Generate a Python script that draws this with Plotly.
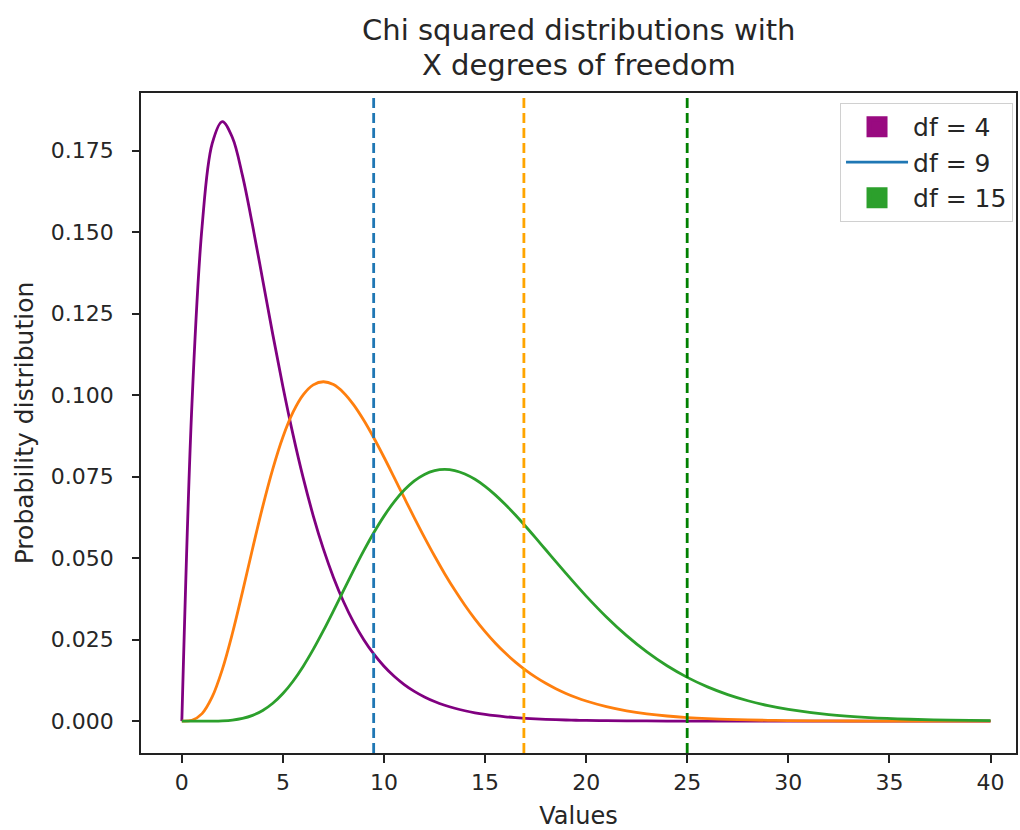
import plotly.graph_objects as go

# Values (x grid and densities for each df)
x_values = [0, 0.5, 1, 1.5, 2, 2.5, 3, 3.5, 4, 4.5, 5, 5.5, 6, 6.5, 7, 7.5, 8, 8.5, 9, 9.5,
            10, 10.5, 11, 11.5, 12, 12.5, 13, 13.5, 14, 14.5, 15, 15.5, 16, 16.5, 17, 17.5,
            18, 18.5, 19, 19.5, 20, 21, 22, 23, 24, 25, 26, 27, 28, 29, 30, 32, 34, 36, 38, 40]
pdf_df4 = [0, 0.09735, 0.15163, 0.17714, 0.18394, 0.17906, 0.16735, 0.15205, 0.13534,
           0.118574, 0.10261, 0.087901, 0.07468, 0.063008, 0.05284, 0.044096, 0.03663,
           0.030311, 0.025, 0.020548, 0.016845, 0.013775, 0.011239, 0.0091506, 0.0074363,
           0.0060328, 0.004886, 0.0039518, 0.0031916, 0.0025744, 0.0020741, 0.0016691,
           0.0013418, 0.0010777, 0.00086475, 0.00069326, 0.00055535, 0.00044452, 0.00035555,
           0.00028419, 0.000227, 0.00014456, 0.00009186, 0.00005825, 0.00003687, 0.00002329,
           0.00001469, 0.00000925, 0.00000582, 0.00000366, 0.00000229, 0.0000009, 0.00000035,
           0.00000014, 0.00000005, 0.00000002]
pdf_df9 = [0, 0.0002615, 0.0023045, 0.007418, 0.015814, 0.026893, 0.039646, 0.052958,
           0.065819, 0.077409, 0.087174, 0.09477, 0.10008, 0.10315, 0.10412, 0.10324, 0.10078,
           0.097035, 0.092308, 0.086866, 0.080955, 0.074788, 0.068545, 0.062368, 0.056376,
           0.05065, 0.045248, 0.040217, 0.035572, 0.031323, 0.027468, 0.023993, 0.020883,
           0.018113, 0.01566, 0.013498, 0.011602, 0.0099447, 0.0085028, 0.0072523, 0.0061715,
           0.0044401, 0.0031694, 0.0022458, 0.001581, 0.0011062, 0.00076964, 0.00053275,
           0.000367, 0.00025168, 0.000172, 0.00007926, 0.00003605, 0.0000162, 0.0000072,
           0.00000317]
pdf_df15 = [0, 0.000000025, 0.00000179, 0.00001945, 0.0000983, 0.0003265, 0.0008318,
            0.0017643, 0.0032731, 0.0054809, 0.0084668, 0.012251, 0.016797, 0.02201,
            0.027749, 0.033841, 0.040092, 0.046303, 0.052286, 0.057869, 0.062902, 0.06727,
            0.070888, 0.073705, 0.075696, 0.076865, 0.077241, 0.076883, 0.075842, 0.074199,
            0.072031, 0.069426, 0.066461, 0.063221, 0.059781, 0.056209, 0.052573, 0.048926,
            0.045316, 0.041784, 0.038361, 0.03195, 0.026222, 0.021232, 0.016982, 0.01343,
            0.010511, 0.0081479, 0.0062597, 0.0047694, 0.0036059, 0.002018, 0.0011009,
            0.00058723, 0.000307, 0.00015763]
critical_values = [9.488, 16.919, 24.996]
critical_colors = ["#1f77b4", "#ffa500", "#008000"]
legend_labels = ["df = 4", "df = 9", "df = 15"]
title_lines = ["Chi squared distributions with", "X degrees of freedom"]
x_ticks = [0, 5, 10, 15, 20, 25, 30, 35, 40]
y_ticks = [0.0, 0.025, 0.05, 0.075, 0.1, 0.125, 0.15, 0.175]

FONT = "DejaVu Sans"
TXT = "#262626"

fig = go.Figure()
curve_colors = ["#800080", "#ff7f0e", "#2ca02c"]
for ys, c in zip([pdf_df4, pdf_df9, pdf_df15], curve_colors):
    fig.add_trace(go.Scatter(x=x_values, y=ys, mode="lines",
                             line=dict(color=c, width=2.8, shape="spline", smoothing=1.0),
                             showlegend=False, hoverinfo="skip"))

# legend entries (as in the original: square, line, square)
fig.add_trace(go.Scatter(x=[None], y=[None], mode="markers", name=legend_labels[0],
                         legendgroup="a",
                         marker=dict(symbol="square", size=16, color="#990a80",
                                     line=dict(color="#990a80", width=5))))
fig.add_trace(go.Scatter(x=[None], y=[None], mode="lines", name=legend_labels[1],
                         legendgroup="b",
                         line=dict(color="#1f77b4", width=2.8)))
fig.add_trace(go.Scatter(x=[None], y=[None], mode="markers", name=legend_labels[2],
                         legendgroup="c",
                         marker=dict(symbol="square", size=16, color="#2ca02c",
                                     line=dict(color="#2ca02c", width=5))))

for xv, c in zip(critical_values, critical_colors):
    fig.add_shape(type="line", xref="x", yref="paper", x0=xv, x1=xv, y0=0, y1=1,
                  line=dict(color=c, width=2.8, dash="10px,5px"))

for txt, py in zip(title_lines, [1.0950, 1.0422]):
    fig.add_annotation(text=txt, xref="paper", yref="paper", x=0.5, y=py,
                       xanchor="center", yanchor="middle", showarrow=False,
                       font=dict(size=29, family=FONT, color=TXT))

fig.update_layout(
    width=1020, height=830,
    margin=dict(l=141, r=2, t=93, b=74),
    paper_bgcolor="white", plot_bgcolor="white",
    font=dict(family=FONT, color=TXT, size=22),
    showlegend=True,
    legend=dict(x=0.9966, xanchor="right", y=0.985, yanchor="top",
                bordercolor="#d0d0d0", borderwidth=1, bgcolor="white",
                font=dict(size=25, family=FONT, color=TXT),
                itemwidth=62, itemsizing="trace", tracegroupgap=0),
)
fig.update_xaxes(range=[-2.02, 41.26], tickvals=x_ticks, ticks="outside", ticklen=8,
                 tickwidth=1.5, tickcolor="#222", showline=True, linecolor="#222",
                 linewidth=1.8, mirror=True, showgrid=False, zeroline=False,
                 ticklabelstandoff=1,
                 tickfont=dict(size=22), title=dict(text="Values", font=dict(size=24), standoff=16))
fig.update_yaxes(range=[-0.00977, 0.1927], tickvals=y_ticks, tickformat=".3f",
                 ticks="outside", ticklen=7, tickwidth=1.5, tickcolor="#222",
                 showline=True, linecolor="#222", linewidth=1.8, mirror=True,
                 ticklabelstandoff=14,
                 showgrid=False, zeroline=False, tickfont=dict(size=22),
                 title=dict(text="Probability distribution", font=dict(size=25), standoff=10))

fig.write_html("out.html")
